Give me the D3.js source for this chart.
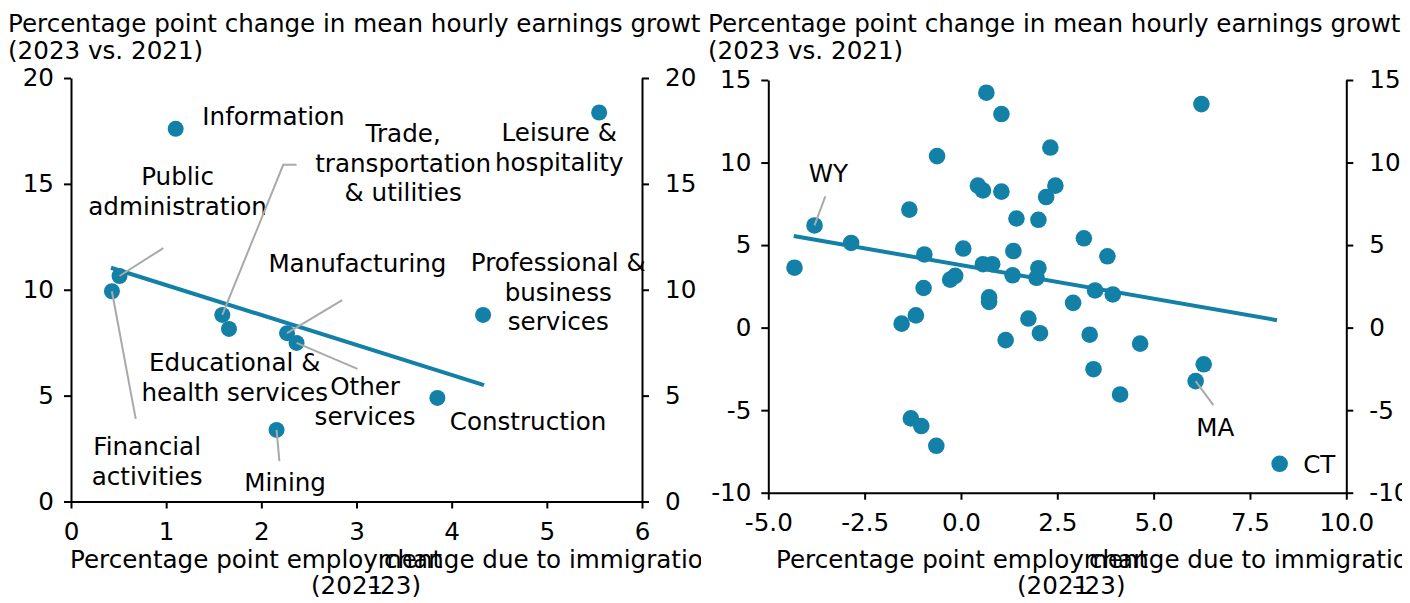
<!DOCTYPE html>
<html>
<head>
<meta charset="utf-8">
<script src="https://cdn.jsdelivr.net/npm/d3@7"></script>
<style>
  body { margin: 0; background: #fff; }
  svg text { font-family: "DejaVu Sans", sans-serif; font-size: 24.6px; fill: #000; }
</style>
</head>
<body>
<svg id="chart" width="1410" height="603"></svg>
<script>
'use strict';

// ---- left panel: industries ----
const industries = [
  'Information', 'Leisure & hospitality', 'Public administration',
  'Financial activities', 'Trade, transportation & utilities',
  'Educational & health services', 'Manufacturing', 'Other services',
  'Professional & business services', 'Construction', 'Mining'
];
const industryEmp = [1.10, 5.55, 0.51, 0.43, 1.59, 1.66, 2.27, 2.37, 4.33, 3.85, 2.16];
const industryWage = [17.60, 18.37, 10.65, 9.93, 8.81, 8.15, 7.95, 7.49, 8.81, 4.89, 3.38];
const industryFit = [[0.42, 11.04], [4.34, 5.50]];
const leftXTicks = [0, 1, 2, 3, 4, 5, 6];
const leftYTicks = [0, 5, 10, 15, 20];

// ---- right panel: states ----
const stateNames = [
  '', 'WY', '', '', '', '', '', '', '', '',
  '', '', '', '', '', '', '', '', '', '',
  '', '', '', '', '', '', '', '', '', '',
  '', '', '', '', '', '', '', '', '', '',
  '', '', 'MA', '', '', '', '', '', 'CT'
];
const stateEmp = [
  -4.32, -3.80, -2.85, -1.34, -0.62, 0.66, 1.05, 2.32, 2.45, 2.21,
  0.44, 0.57, 1.05, 1.44, 2.01, -0.95, 0.06, 1.36, 0.57, 0.81,
  2.01, 1.96, 1.34, -0.28, -0.15, -0.97, 0.73, 0.73, -1.17, -1.54,
  1.75, 2.05, 1.16, 3.34, 4.65, 6.24, 3.19, 3.80, 3.48, 3.94,
  2.91, 6.30, 6.09, 3.44, 4.13, -1.30, -1.03, -0.64, 8.27
];
const stateWage = [
  3.63, 6.19, 5.13, 7.15, 10.39, 14.23, 12.94, 10.91, 8.60, 7.91,
  8.60, 8.31, 8.24, 6.61, 6.53, 4.43, 4.79, 4.64, 3.84, 3.84,
  3.60, 3.02, 3.17, 2.91, 3.14, 2.40, 1.83, 1.56, 0.74, 0.24,
  0.55, -0.34, -0.76, -0.43, -0.97, 13.54, 5.41, 4.32, 2.25, 2.01,
  1.50, -2.22, -3.24, -2.52, -4.05, -5.50, -5.96, -7.16, -8.25
];
const stateFit = [[-4.34, 5.55], [8.20, 0.45]];
const rightXTicks = [-5, -2.5, 0, 2.5, 5, 7.5, 10];
const rightYTicks = [-10, -5, 0, 5, 10, 15];

const titleLines = ['Percentage point change in mean hourly earnings growth', '(2023 vs. 2021)'];

// ---- label placement (data units) ----
const leftNotes = [
  { name: 'Information', text: ['Information'], at: [1.38, 18.16], anchor: 'start' },
  { name: 'Public administration', text: ['Public', 'administration'], at: [1.12, 15.33], leader: [[0.97, 11.97]] },
  { name: 'Trade, transportation & utilities', text: ['Trade,', 'transportation', '& utilities'], at: [3.49, 17.36], leader: [[2.37, 15.9], [2.23, 15.9]] },
  { name: 'Leisure & hospitality', text: ['Leisure &', 'hospitality'], at: [5.13, 17.41] },
  { name: 'Manufacturing', text: ['Manufacturing'], at: [3.01, 11.22], leader: [[2.85, 9.51]] },
  { name: 'Professional & business services', text: ['Professional &', 'business', 'services'], at: [5.12, 11.27] },
  { name: 'Educational & health services', text: ['Educational &', 'health services'], at: [1.72, 6.54] },
  { name: 'Other services', text: ['Other', 'services'], at: [3.09, 5.41], leader: [[3.01, 6.26]] },
  { name: 'Construction', text: ['Construction'], at: [3.98, 3.76], anchor: 'start' },
  { name: 'Financial activities', text: ['Financial', 'activities'], at: [0.80, 2.57], leader: [[0.68, 3.90]] },
  { name: 'Mining', text: ['Mining'], at: [2.25, 0.87], leader: [[2.19, 1.91]] }
];
const rightNotes = [
  { name: 'WY', text: ['WY'], at: [-3.44, 9.35], leader: [[-3.52, 7.95]] },
  { name: 'MA', text: ['MA'], at: [6.60, -6.03], leader: [[6.55, -4.70]] },
  { name: 'CT', text: ['CT'], at: [8.88, -8.27], anchor: 'start' }
];

const blue = '#1380a8';
const grey = '#a9a9a9';
const lineGap = 29.5;

const svg = d3.select('#chart');
const defs = svg.append('defs');

function drawPanel(p) {
  defs.append('clipPath').attr('id', p.id)
    .append('rect').attr('x', p.clip[0]).attr('y', 0)
    .attr('width', p.clip[1] - p.clip[0]).attr('height', 603);
  const g = svg.append('g').attr('clip-path', `url(#${p.id})`);

  const x = d3.scaleLinear().domain(p.xDomain).range(p.xRange);
  const y = d3.scaleLinear().domain(p.yDomain).range(p.yRange);

  // title
  g.append('text').attr('x', p.titleX).attr('y', 31.5).text(titleLines[0]);
  g.append('text').attr('x', p.titleX).attr('y', 58.5).text(titleLines[1]);

  // axes
  const yl = g.append('g').attr('transform', `translate(${p.xRange[0]},0)`)
    .call(d3.axisLeft(y).tickValues(p.yTicks).tickSize(7).tickSizeOuter(0).tickPadding(10).tickFormat(p.yFmt));
  const yr = g.append('g').attr('transform', `translate(${p.xRange[1]},0)`)
    .call(d3.axisRight(y).tickValues(p.yTicks).tickSize(7).tickSizeOuter(0).tickPadding(16).tickFormat(p.yFmt));
  const xb = g.append('g').attr('transform', `translate(0,${p.yRange[0]})`)
    .call(d3.axisBottom(x).tickValues(p.xTicks).tickSize(7).tickSizeOuter(0).tickPadding(14).tickFormat(p.xFmt));
  [yl, yr, xb].forEach(a => {
    a.attr('font-size', null).attr('font-family', null);
    a.selectAll('path, line').attr('stroke', '#000').attr('stroke-width', 2);
    a.selectAll('text').attr('fill', '#000');
  });

  // axis label
  const lab = g.append('g');
  lab.append('text').attr('x', p.lab[0]).attr('y', 567.5).text('Percentage point employment');
  lab.append('text').attr('x', p.lab[1]).attr('y', 567.5).text('change due to immigration');
  lab.append('text').attr('x', p.lab[2]).attr('y', 594).text('(2021');
  lab.append('text').attr('x', p.lab[3]).attr('y', 594).attr('text-anchor', 'end').text('\u201323)');

  // fit line
  g.append('path')
    .attr('d', d3.line().x(d => x(d[0])).y(d => y(d[1]))(p.fit))
    .attr('fill', 'none').attr('stroke', blue).attr('stroke-width', 4);

  // points
  g.append('g').selectAll('circle').data(p.xs).join('circle')
    .attr('cx', d => x(d)).attr('cy', (d, i) => y(p.ys[i]))
    .attr('r', p.r).attr('fill', blue);

  // leaders + labels
  p.notes.forEach(n => {
    const i = p.names.indexOf(n.name);
    if (n.leader) {
      const pts = n.leader.concat([[p.xs[i], p.ys[i]]]);
      g.append('path')
        .attr('d', d3.line().x(d => x(d[0])).y(d => y(d[1]))(pts))
        .attr('fill', 'none').attr('stroke', grey).attr('stroke-width', 2);
    }
    const t = g.append('text')
      .attr('text-anchor', n.anchor || 'middle')
      .attr('x', x(n.at[0])).attr('y', y(n.at[1]));
    n.text.forEach((s, k) => {
      t.append('tspan').attr('x', x(n.at[0]))
        .attr('y', y(n.at[1]) + k * lineGap).attr('dy', '0.34em').text(s);
    });
  });
}

drawPanel({
  id: 'clipL', clip: [0, 701],
  xDomain: [0, 6], xRange: [71, 642], yDomain: [0, 20], yRange: [501.5, 78],
  xTicks: leftXTicks, yTicks: leftYTicks,
  xFmt: d => String(d), yFmt: d => String(d),
  titleX: 8, lab: [70, 384, 311, 421],
  fit: industryFit, xs: industryEmp, ys: industryWage, names: industries,
  notes: leftNotes, r: 8
});

drawPanel({
  id: 'clipR', clip: [701, 1402],
  xDomain: [-5, 10], xRange: [768.3, 1346.3], yDomain: [-10, 15], yRange: [492.7, 80],
  xTicks: rightXTicks, yTicks: rightYTicks,
  xFmt: d => d.toFixed(1), yFmt: d => String(d),
  titleX: 708, lab: [776, 1089, 1017, 1125.5],
  fit: stateFit, xs: stateEmp, ys: stateWage, names: stateNames,
  notes: rightNotes, r: 8.3
});
</script>
</body>
</html>
